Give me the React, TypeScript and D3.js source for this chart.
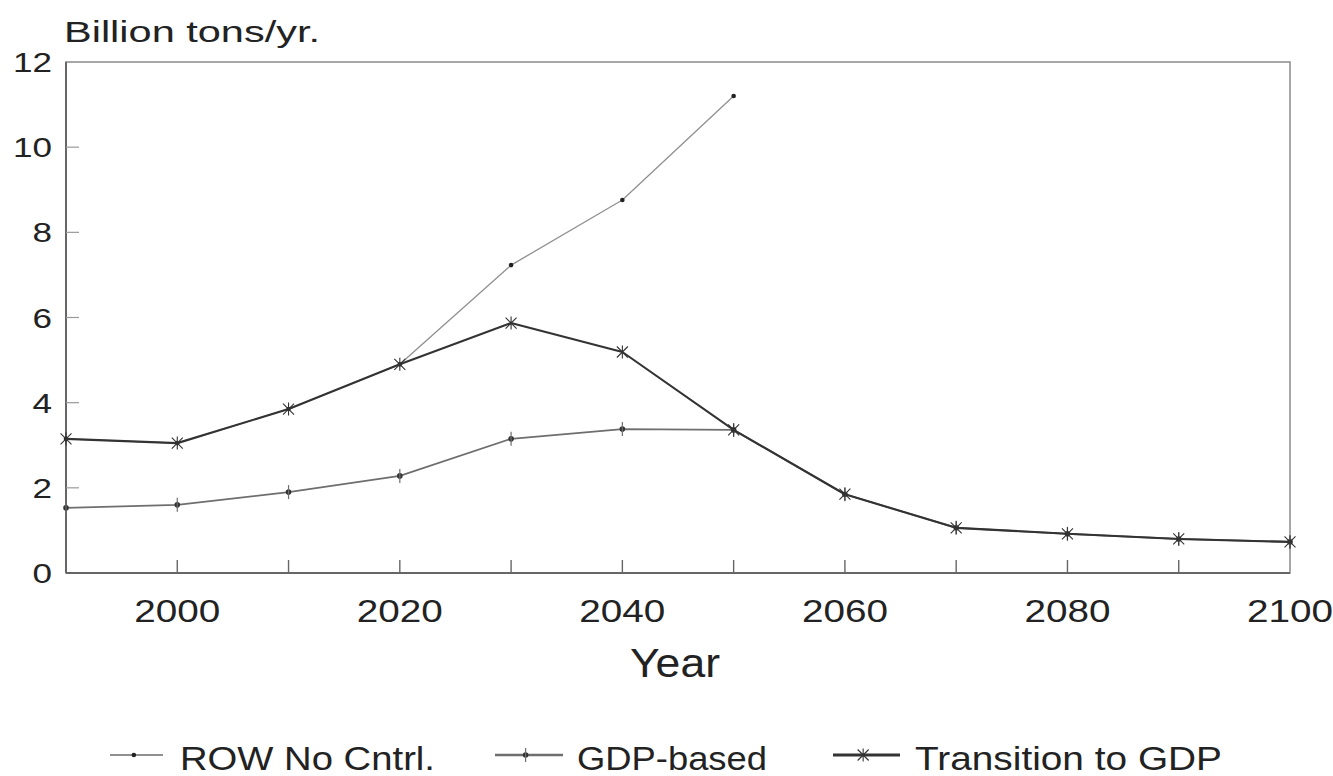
import React, { useEffect, useRef } from 'react';
import * as d3 from 'd3';

const years = [1990, 2000, 2010, 2020, 2030, 2040, 2050, 2060, 2070, 2080, 2090, 2100];
const rowNoCntrl = [3.15, 3.05, 3.85, 4.9, 7.23, 8.76, 11.2];
const gdpBased = [1.53, 1.6, 1.9, 2.28, 3.15, 3.38, 3.36, 1.85, 1.06, 0.92, 0.8, 0.73];
const transition = [3.15, 3.05, 3.85, 4.9, 5.87, 5.19, 3.36, 1.85, 1.06, 0.92, 0.8, 0.73];
const xTickLabels = [2000, 2020, 2040, 2060, 2080, 2100];
const yTicks = [0, 2, 4, 6, 8, 10, 12];

const series = [
  { name: 'ROW No Cntrl.', values: rowNoCntrl, color: '#909090', width: 1.3, marker: 'dot' },
  { name: 'GDP-based', values: gdpBased, color: '#6e6e6e', width: 1.7, marker: 'plus' },
  { name: 'Transition to GDP', values: transition, color: '#333333', width: 2.1, marker: 'star' },
];

export default function App() {
  const svgRef = useRef<SVGSVGElement>(null);

  useEffect(() => {
    if (!svgRef.current) return;
    const svg = d3.select(svgRef.current);
    svg.selectAll('*').remove();

    const left = 66, right = 1290, top = 62, bottom = 573;
    const font = '"Liberation Sans", Arial, sans-serif';

    const x = d3.scaleLinear().domain([1990, 2100]).range([left, right]);
    const y = d3.scaleLinear().domain([0, 12]).range([bottom, top]);

    // frame
    svg.append('rect')
      .attr('x', left).attr('y', top)
      .attr('width', right - left).attr('height', bottom - top)
      .attr('fill', 'none').attr('stroke', '#8a8a8a').attr('stroke-width', 1.5);
    svg.append('line')
      .attr('x1', left).attr('x2', left).attr('y1', top).attr('y2', bottom)
      .attr('stroke', '#666').attr('stroke-width', 2);
    svg.append('line')
      .attr('x1', left).attr('x2', right).attr('y1', bottom).attr('y2', bottom)
      .attr('stroke', '#666').attr('stroke-width', 2);

    // y ticks (inward)
    const yAxis = svg.append('g');
    yTicks.forEach(t => {
      if (t > 0 && t < 12) {
        yAxis.append('line')
          .attr('x1', left).attr('x2', left + 13)
          .attr('y1', y(t)).attr('y2', y(t))
          .attr('stroke', '#999').attr('stroke-width', 1.2);
      }
      const lbl = String(t);
      yAxis.append('text')
        .attr('x', 52).attr('y', y(t) + 10)
        .attr('text-anchor', 'end')
        .attr('textLength', lbl.length * 19.5).attr('lengthAdjust', 'spacingAndGlyphs')
        .style('font-family', font).style('font-size', '28px').style('fill', '#222')
        .text(lbl);
    });

    // x ticks (inward), every 10 years
    const xAxis = svg.append('g');
    years.slice(1, -1).forEach(yr => {
      xAxis.append('line')
        .attr('x1', x(yr)).attr('x2', x(yr))
        .attr('y1', bottom).attr('y2', bottom - 13)
        .attr('stroke', '#666').attr('stroke-width', 1.4);
    });
    xTickLabels.forEach(yr => {
      xAxis.append('text')
        .attr('x', x(yr)).attr('y', 622)
        .attr('text-anchor', 'middle')
        .attr('textLength', 86).attr('lengthAdjust', 'spacingAndGlyphs')
        .style('font-family', font).style('font-size', '32px').style('fill', '#222')
        .text(yr);
    });

    svg.append('text')
      .attr('x', 675).attr('y', 677)
      .attr('text-anchor', 'middle')
      .attr('textLength', 90).attr('lengthAdjust', 'spacingAndGlyphs')
      .style('font-family', font).style('font-size', '41px').style('fill', '#222')
      .text('Year');

    svg.append('text')
      .attr('x', 64).attr('y', 42)
      .attr('textLength', 256).attr('lengthAdjust', 'spacingAndGlyphs')
      .style('font-family', font).style('font-size', '29px').style('fill', '#222')
      .text('Billion tons/yr.');

    const line = d3.line<number>()
      .x((_, i) => x(years[i]))
      .y(d => y(d));

    const drawMarker = (g: any, cx: number, cy: number, kind: string, color: string) => {
      if (kind === 'dot') {
        g.append('circle').attr('cx', cx).attr('cy', cy).attr('r', 2.3).attr('fill', '#222');
      } else if (kind === 'plus') {
        g.append('circle').attr('cx', cx).attr('cy', cy).attr('r', 2.8).attr('fill', '#333');
        g.append('line').attr('x1', cx).attr('x2', cx).attr('y1', cy - 7).attr('y2', cy + 7)
          .attr('stroke', color).attr('stroke-width', 1.2);
      } else {
        const s = 5.5;
        g.append('path')
          .attr('d', `M${cx - s},${cy - s}L${cx + s},${cy + s}M${cx - s},${cy + s}L${cx + s},${cy - s}M${cx},${cy - s - 1}L${cx},${cy + s + 1}`)
          .attr('stroke', color).attr('stroke-width', 1.1).attr('fill', 'none');
      }
    };

    series.forEach(s => {
      const g = svg.append('g');
      g.append('path')
        .datum(s.values)
        .attr('d', line)
        .attr('fill', 'none')
        .attr('stroke', s.color)
        .attr('stroke-width', s.width)
        .attr('stroke-linejoin', 'round');
      s.values.forEach((v, i) => drawMarker(g, x(years[i]), y(v), s.marker, s.color));
    });

    // legend
    const legendLine = [[110, 163], [495, 563], [833, 900]];
    const legendText = [[180, 255], [577, 190], [915, 307]];
    series.forEach((s, i) => {
      const g = svg.append('g');
      const ly = 755;
      const [x1, x2] = legendLine[i];
      g.append('line')
        .attr('x1', x1).attr('x2', x2).attr('y1', ly).attr('y2', ly)
        .attr('stroke', s.color).attr('stroke-width', s.width + 0.8);
      drawMarker(g, x1 + (x2 - x1) * 0.45, ly, s.marker, s.color);
      g.append('text')
        .attr('x', legendText[i][0]).attr('y', 770)
        .attr('textLength', legendText[i][1]).attr('lengthAdjust', 'spacingAndGlyphs')
        .style('font-family', font).style('font-size', '33px').style('fill', '#222')
        .text(s.name);
    });
  }, []);

  return (
    <svg ref={svgRef} width={1333} height={776}
      style={{ position: 'absolute', left: 0, top: 0, background: '#fff' }} />
  );
}
